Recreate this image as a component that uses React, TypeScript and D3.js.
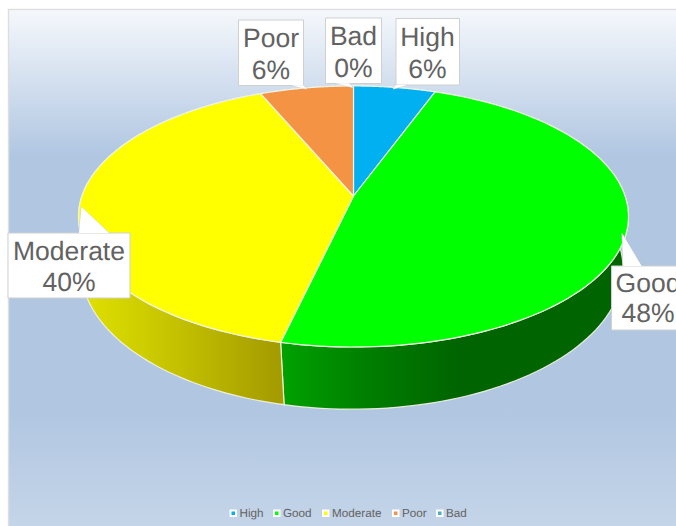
import React from "react";
import * as d3 from "d3";

const categories = ["High", "Good", "Moderate", "Poor", "Bad"];
const shares = [5.6, 48.05, 39.95, 6.4, 0];
const sliceColors = ["#00b0f0", "#00ff00", "#ffff00", "#f59344", "#4bacc6"];

const WIDTH = 676;
const HEIGHT = 526;
const LABEL_COLOR = "#626262";
const FONT = "'Liberation Sans', Arial, sans-serif";

// Tilted disc: a unit circle seen through a projective camera.
const topRim = { cx: 353.5, cy: 196, bx: 271.6, by: 127.3, p: 0.157 };
const bottomRim = { cx: 352, cy: 254.1, bx: 269.6, by: 139.6, p: 0.1 };
type Rim = typeof topRim;

const project = (r: Rim, a: number): [number, number] => {
  const w = 1 + r.p * Math.cos(a);
  return [r.cx + (r.bx * Math.sin(a)) / w, r.cy - (r.by * Math.cos(a)) / w];
};

const arcs = d3
  .pie<number>()
  .sort(null)
  .startAngle(0)
  .endAngle(Math.PI * 2)(shares);

const sampleAngles = (a0: number, a1: number) =>
  d3.range(0, 97).map((i) => a0 + ((a1 - a0) * i) / 96);

const line = d3.line();

// Callout boxes: box corners, lines of text anchored in it, and the pointer.
const callouts = [
  { i: 3, x0: 238.5, y0: 20, x1: 303.5, y1: 85.5, tx: 271, b: [47, 79], tail: [[291.5, 85.5], [306.5, 89], [303.5, 85.5]] },
  { i: 4, x0: 325.5, y0: 18, x1: 381.5, y1: 83.5, tx: 353.5, b: [45, 76.5], tail: [[336, 83.5], [353, 87.5], [349, 83.5]] },
  { i: 0, x0: 396, y0: 18.5, x1: 459.5, y1: 85, tx: 427.5, b: [46, 78], tail: [[396, 85], [393, 89], [407, 85]] },
  { i: 2, x0: 8, y0: 233, x1: 130, y1: 298, tx: 69, b: [259.5, 291], tail: [[79, 233], [81.5, 207], [109, 233]] },
  { i: 1, x0: 611.5, y0: 266, x1: 690, y1: 330, tx: 648, b: [291.5, 322], tail: [[623.3, 266], [622, 233.5], [641.5, 266]] },
];

// Legend swatch and label positions along the bottom row.
const legendX = [229.5, 273, 322, 392, 436];

const sideStops: Record<number, [string, string][]> = {
  1: [["0", "#00a200"], ["0.45", "#008000"], ["1", "#006400"]],
  2: [["0", "#dede00"], ["0.3", "#cdcd00"], ["1", "#a59d00"]],
};
const sideExtent: Record<number, [number, number]> = { 1: [281, 460], 2: [88, 275] };

export default function App() {
  return (
    <svg
      width={WIDTH}
      height={HEIGHT}
      viewBox={`0 0 ${WIDTH} ${HEIGHT}`}
      style={{ position: "fixed", left: 0, top: 0, display: "block", background: "#fff" }}
    >
      <defs>
        <linearGradient id="plate" x1="0" y1="0" x2="0" y2="1">
          <stop offset="0" stopColor="#f5f8fc" />
          <stop offset="0.28" stopColor="#b0c6e1" />
          <stop offset="0.76" stopColor="#b0c6e1" />
          <stop offset="1" stopColor="#c6d6e9" />
        </linearGradient>
        {Object.entries(sideStops).map(([k, stops]) => (
          <linearGradient
            key={k}
            id={`side-${k}`}
            gradientUnits="userSpaceOnUse"
            x1={sideExtent[+k][0]}
            x2={sideExtent[+k][1]}
            y1="0"
            y2="0"
          >
            {stops.map(([o, c]) => (
              <stop key={o} offset={o} stopColor={c} />
            ))}
          </linearGradient>
        ))}
      </defs>

      <rect x={8.5} y={9.5} width={WIDTH} height={HEIGHT} fill="url(#plate)" stroke="#dedede" strokeWidth={1.4} />

      {/* Wall of the disc */}
      {arcs.map((arc, i) => {
        if (arc.endAngle - arc.startAngle < 0.001) return null;
        const a = sampleAngles(arc.startAngle, arc.endAngle);
        const pts = [...a.map((t) => project(topRim, t)), ...[...a].reverse().map((t) => project(bottomRim, t))];
        const fill = sideStops[i] ? `url(#side-${i})` : sliceColors[i];
        return <path key={i} d={line(pts) + "Z"} fill={fill} stroke="#f4f4e2" strokeOpacity={0.9} strokeWidth={1.2} />;
      })}

      {/* Top face */}
      {arcs.map((arc, i) => {
        if (arc.endAngle - arc.startAngle < 0.001) return null;
        const pts = [[topRim.cx, topRim.cy] as [number, number], ...sampleAngles(arc.startAngle, arc.endAngle).map((t) => project(topRim, t))];
        return <path key={i} d={line(pts) + "Z"} fill={sliceColors[i]} stroke="#eef3e6" strokeWidth={1.2} />;
      })}

      {/* Data callouts */}
      {callouts.map((c) => {
        const outline = d3.path();
        outline.rect(c.x0, c.y0, c.x1 - c.x0, c.y1 - c.y0);
        return (
          <g key={c.i}>
            <path d={outline.toString()} fill="#fff" stroke="#d0d0d0" strokeWidth={1} />
            <path d={line(c.tail as [number, number][]) ?? ""} fill="#fff" stroke="#d0d0d0" strokeWidth={1} />
            <path d={line(c.tail as [number, number][]) + "Z"} fill="#fff" />
            {[categories[c.i], `${d3.format(".0f")(shares[c.i])}%`].map((t, j) => (
              <text
                key={j}
                x={c.tx}
                y={c.b[j]}
                textAnchor="middle"
                fontFamily={FONT}
                fontSize={26.5}
                fill={LABEL_COLOR}
                textRendering="geometricPrecision"
              >
                {t}
              </text>
            ))}
          </g>
        );
      })}

      {/* Legend */}
      {categories.map((name, i) => (
        <g key={name}>
          <rect x={legendX[i]} y={509.5} width={7.5} height={7.5} fill="#fff" />
          <rect x={legendX[i] + 2} y={511.5} width={3.5} height={3.5} fill={sliceColors[i]} />
          <text x={legendX[i] + 10} y={516.8} fontFamily={FONT} fontSize={11.7} fill={LABEL_COLOR} textRendering="geometricPrecision">
            {name}
          </text>
        </g>
      ))}
    </svg>
  );
}
